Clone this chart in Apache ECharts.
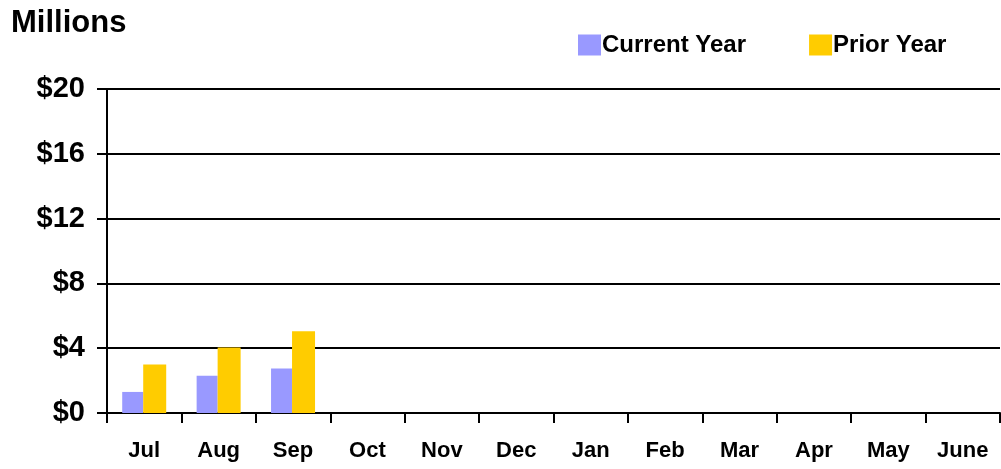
<!DOCTYPE html>
<html>
<head>
<meta charset="utf-8">
<script src="https://cdn.jsdelivr.net/npm/echarts@6/dist/echarts.min.js"></script>
<style>
html, body { margin: 0; padding: 0; background: #fff; }
#container { width: 1001px; height: 469px; }
</style>
</head>
<body>
<div id="container"></div>
<script>
let months = ['Jul', 'Aug', 'Sep', 'Oct', 'Nov', 'Dec', 'Jan', 'Feb', 'Mar', 'Apr', 'May', 'June'];
let currentYear = [1.3, 2.3, 2.75, null, null, null, null, null, null, null, null, null];
let priorYear = [3.0, 4.05, 5.05, null, null, null, null, null, null, null, null, null];
let yTicks = [0, 4, 8, 12, 16, 20];

let dom = document.getElementById('container');
let chart = echarts.init(dom);

let font = 'Liberation Sans, Arial, sans-serif';

chart.setOption({
    animation: false,
    title: {
        text: 'Millions',
        left: 6,
        top: 3,
        textStyle: { fontFamily: font, fontSize: 31, fontWeight: 'bold', color: '#000' }
    },
    legend: {
        left: 573,
        top: 28,
        itemWidth: 23,
        itemHeight: 21,
        itemGap: 63,
        icon: 'rect',
        textStyle: { fontFamily: font, fontSize: 24, fontWeight: 'bold', color: '#000', padding: [4, 0, 0, -4] },
        data: ['Current Year', 'Prior Year']
    },
    grid: { left: 107, right: 1, top: 89, bottom: 56 },
    xAxis: {
        type: 'category',
        data: months,
        axisLine: { lineStyle: { color: '#000', width: 2 } },
        axisTick: { show: true, length: 10, lineStyle: { color: '#000', width: 2 } },
        axisLabel: { fontFamily: font, fontSize: 22, fontWeight: 'bold', color: '#000', margin: 27 }
    },
    yAxis: {
        type: 'value',
        min: yTicks[0],
        max: yTicks[yTicks.length - 1],
        interval: 4,
        axisLine: { show: true, lineStyle: { color: '#000', width: 2 } },
        axisTick: { show: true, length: 10, lineStyle: { color: '#000', width: 2 } },
        splitLine: { lineStyle: { color: '#000', width: 2 } },
        axisLabel: {
            fontFamily: font, fontSize: 29, fontWeight: 'bold', color: '#000', margin: 22,
            formatter: (v) => '$' + v
        }
    },
    series: [
        {
            name: 'Current Year',
            type: 'bar',
            data: currentYear,
            barWidth: 21,
            barGap: '0%',
            itemStyle: { color: '#9999FF' }
        },
        {
            name: 'Prior Year',
            type: 'bar',
            data: priorYear,
            barWidth: 23,
            itemStyle: { color: '#FFCC00' }
        }
    ]
});
</script>
</body>
</html>
